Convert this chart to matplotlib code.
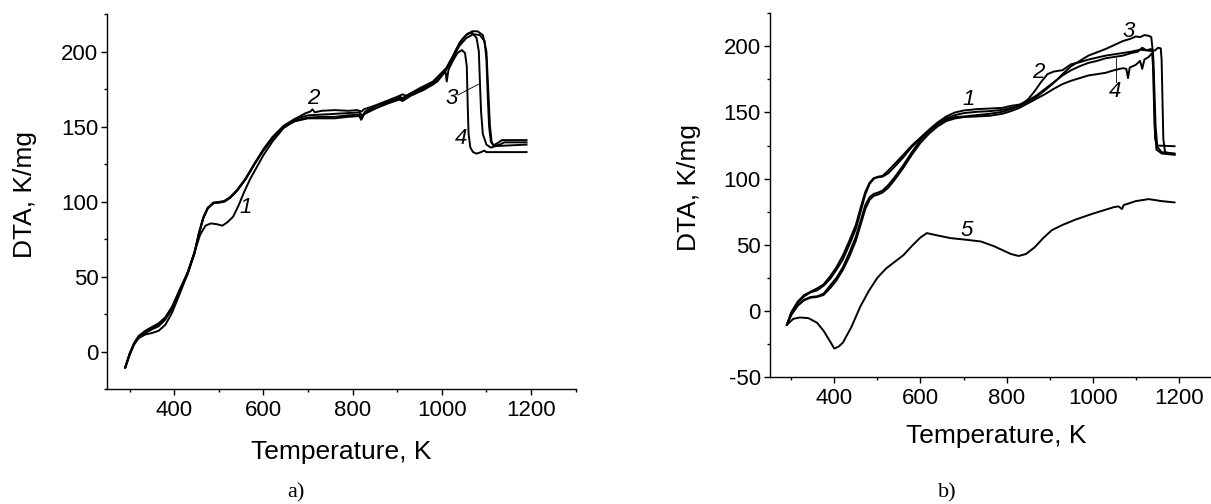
import matplotlib
matplotlib.use("Agg")
import matplotlib.pyplot as plt
from matplotlib.ticker import MultipleLocator

# ---- panel a) ----
a1_T = [290, 300, 310, 320, 335, 350, 365, 380, 395, 410, 430, 445, 458, 470, 482, 495, 508, 520,
        532, 545, 556, 570, 585, 600, 620, 645, 670, 700, 730, 760, 790, 815, 820, 826, 850, 880,
        905, 912, 920, 950, 980, 1000, 1012, 1025, 1040, 1055, 1070, 1085, 1096, 1100, 1103, 1106,
        1110, 1116, 1125, 1135, 1190]
a1_y = [-10.5, -2, 5, 9, 11.5, 12.5, 14, 18, 26, 37, 52, 66, 78, 84, 85.5, 85, 84, 86.5,
        90, 98, 106, 115, 123, 131, 140, 149, 154, 156, 156.5, 156.5, 157.5, 158, 155, 158.5, 162, 166,
        169, 168, 170, 174, 178, 184, 189, 196, 204, 209, 211.5, 211, 207, 195, 170, 150,
        140, 137.5, 139, 141, 141]

a2_T = [290, 300, 310, 320, 335, 350, 365, 380, 395, 410, 430, 445, 455, 465, 475, 488, 500, 512,
        525, 540, 560, 580, 600, 620, 645, 670, 695, 705, 710, 715, 730, 760, 790, 810, 820, 825,
        850, 880, 905, 912, 920, 950, 980, 1000, 1010, 1025, 1040, 1055, 1068, 1080, 1092, 1100,
        1104, 1108, 1112, 1118, 1130, 1140, 1190]
a2_y = [-10.5, -1, 6, 10.5, 14, 16.5, 19, 23, 30, 40, 53, 66, 78, 89, 95.5, 99, 99.5, 100,
        102.5, 107, 115, 125, 134.5, 142.5, 150, 155, 159, 160, 161.5, 159.5, 160.5, 161, 160.5, 161, 160, 161.5,
        164, 167.5, 170.5, 171.5, 170.5, 175.5, 180, 186, 189, 197, 206, 211, 213.5, 213.5, 211, 200,
        175, 150, 139, 137, 138, 139.5, 139.5]

a3_T = [290, 300, 310, 320, 335, 350, 365, 380, 395, 410, 430, 445, 455, 465, 475, 488, 500, 512,
        525, 540, 560, 580, 600, 620, 645, 670, 700, 730, 760, 790, 815, 822, 828, 850, 880, 905,
        912, 930, 960, 990, 1005, 1015, 1030, 1045, 1058, 1068, 1078, 1083, 1086, 1088, 1092, 1100,
        1110, 1120, 1190]
a3_y = [-10.5, -1.5, 5.5, 10, 13, 15.5, 18, 22.5, 29.5, 39.5, 52.5, 65.5, 79, 89.5, 96, 99.5, 99.8, 100.5,
        103, 107.5, 115.5, 125.5, 135, 143, 150.5, 155, 157.5, 158, 158.5, 159, 159.5, 157, 160, 163.5, 167, 170,
        169, 172, 176, 181, 186, 191, 200, 208, 212, 212.5, 209, 200, 175, 160, 145, 138,
        136, 137, 138]

a4_T = [290, 300, 310, 320, 335, 350, 365, 380, 395, 410, 430, 445, 455, 465, 475, 488, 500, 512,
        525, 540, 560, 580, 600, 620, 645, 670, 700, 730, 760, 790, 815, 819, 824, 850, 880, 905,
        912, 930, 960, 990, 1003, 1008, 1011, 1015, 1025, 1035, 1045, 1052, 1056, 1058, 1060, 1064,
        1070, 1078, 1088, 1095, 1100, 1110, 1190]
a4_y = [-10.5, -1.5, 5, 9.5, 12.5, 15, 17, 21.5, 28.5, 39, 52, 65, 78.5, 89, 95.5, 99, 99.3, 100,
        102.5, 107, 115, 125, 134, 142, 149.5, 153.5, 155.5, 155.5, 155.5, 156.5, 157, 154.5, 158, 162, 165.5, 168,
        167, 170.5, 174.5, 180, 185, 187, 180, 188, 194, 199, 201, 199, 190, 165, 145, 136,
        133, 132, 133, 134, 133, 133, 133]

# ---- panel b) ----
b1_T = [290, 300, 315, 330, 345, 360, 375, 390, 405, 420, 435, 450, 462, 472, 482, 492, 502, 512,
        525, 540, 560, 580, 600, 620, 640, 660, 680, 700, 730, 760, 790, 810, 830, 850, 870, 890,
        910, 930, 950, 970, 990, 1010, 1030, 1050, 1070, 1090, 1105, 1115, 1125, 1135, 1140, 1143,
        1146, 1150, 1160, 1190]
b1_y = [-10.5, -2, 6, 11, 14, 15.5, 19, 24, 31, 39, 50, 62, 76, 88, 96, 100, 101.5, 102,
        106, 111, 118, 125, 131, 137, 142.5, 147, 150, 151.5, 152.5, 153, 153.5, 155, 156, 159, 163, 168,
        173, 178, 182, 185, 187.5, 189, 191, 192, 193, 195, 196, 199, 197, 198, 196, 170,
        140, 124, 120, 119]

b2_T = [290, 300, 315, 330, 345, 360, 375, 390, 405, 420, 435, 450, 462, 472, 482, 492, 502, 512,
        525, 540, 560, 580, 600, 620, 640, 660, 680, 700, 730, 760, 790, 810, 830, 850, 865, 880,
        895, 910, 930, 950, 970, 990, 1010, 1030, 1050, 1070, 1090, 1110, 1125, 1135, 1145, 1152,
        1158, 1160, 1162, 1164, 1168, 1180, 1190]
b2_y = [-10.5, -3, 4, 8.5, 10.5, 11, 13, 19, 25, 33, 44, 56, 69, 80, 86, 88.5, 89.5, 91,
        95, 101, 110, 120, 129, 136, 141, 144.5, 146.5, 147, 148, 149, 150.5, 152.5, 155, 160, 166, 173,
        179, 181, 182, 186.5, 188, 190, 191.5, 193, 194, 195, 196, 197.5, 197, 196.5, 197, 199,
        198.5, 190, 160, 130, 120, 119, 118.5]

b3_T = [290, 300, 315, 330, 345, 360, 375, 390, 405, 420, 435, 450, 462, 472, 482, 492, 502, 512,
        525, 540, 560, 580, 600, 620, 640, 660, 680, 700, 730, 760, 790, 810, 830, 850, 870, 890,
        910, 930, 950, 970, 990, 1010, 1030, 1050, 1070, 1090, 1100, 1110, 1120, 1130, 1136, 1140,
        1142, 1145, 1150, 1190]
b3_y = [-10.5, -1, 7, 12, 14.5, 17, 20, 26, 33, 42, 53, 65, 79, 90, 97, 100.5, 101, 101.5,
        104, 109, 116, 124, 130, 136, 141.5, 145.5, 148, 149.5, 150.5, 151, 152, 153.5, 155, 158.5, 162, 167,
        172.5, 179, 185, 189, 193, 195.5, 198, 201, 204, 206, 207.5, 207, 208.5, 208, 207, 195,
        160, 130, 125, 124.5]

b4_T = [290, 300, 315, 330, 345, 360, 375, 390, 405, 420, 435, 450, 462, 472, 482, 492, 502, 512,
        525, 540, 560, 580, 600, 620, 640, 660, 680, 700, 730, 760, 790, 810, 830, 850, 870, 890,
        910, 930, 950, 970, 990, 1010, 1030, 1050, 1070, 1078, 1082, 1086, 1100, 1110, 1115, 1120,
        1130, 1138, 1141, 1144, 1148, 1160, 1190]
b4_y = [-10.5, -3, 4, 8, 10, 10.5, 12, 17, 23, 31, 41, 53, 66, 77, 84, 87, 88, 89.5,
        93, 99, 108, 118, 127, 134, 139.5, 143.5, 145.5, 146.5, 147, 147.5, 149, 151, 153.5, 157, 160.5, 164,
        168, 171.5, 174, 176, 178, 179, 180, 182, 183.5, 183, 176, 184, 186, 189, 183, 190,
        192, 195, 180, 140, 122, 119, 118]

b5_T = [290, 305, 320, 340, 360, 375, 390, 400, 410, 420, 440, 460, 480, 500, 520, 540, 560, 580,
        600, 615, 640, 670, 700, 740, 770, 790, 810, 828, 845, 865, 885, 905, 930, 960, 1000, 1030,
        1050, 1060, 1068, 1072, 1100, 1130, 1160, 1190]
b5_y = [-10.5, -6, -5, -5.5, -9, -15, -23, -28.5, -27, -24, -12, 3, 15, 25, 32, 37, 42, 49,
        55.5, 58.8, 57, 55, 54, 52.5, 49, 46, 43, 41.5, 43, 48, 55, 61, 65, 69, 73.5, 76.5,
        78.5, 79, 77, 80, 83, 84.5, 83, 82]

# curve labels: (text, T, y)
labels_a = [("1", 559, 96), ("2", 712, 168.5), ("3", 1022, 168.5), ("4", 1044, 142)]
labels_b = [("1", 711, 160), ("2", 874, 180.5), ("3", 1084, 211), ("4", 1053, 166), ("5", 708, 61)]

plt.rcParams['font.family'] = ['Liberation Sans', 'DejaVu Sans']
plt.rcParams['axes.unicode_minus'] = False

fig = plt.figure(figsize=(12.11, 5.04), dpi=100)
ax1 = fig.add_axes([107.4 / 1211, 1 - 389.3 / 504, 468.2 / 1211, 375.3 / 504])
ax2 = fig.add_axes([769.7 / 1211, 1 - 377 / 504, 452.2 / 1211, 363.7 / 504])

lw = 1.4
for T, y in [(a1_T, a1_y), (a2_T, a2_y), (a3_T, a3_y), (a4_T, a4_y)]:
    ax1.plot(T, y, c='k', lw=lw)
for T, y in [(b1_T, b1_y), (b2_T, b2_y), (b3_T, b3_y), (b4_T, b4_y), (b5_T, b5_y)]:
    ax2.plot(T, y, c='k', lw=lw)

for txt, x, y in labels_a:
    ax1.text(x, y, txt, fontsize=16, style='italic', ha='center', va='center')
for txt, x, y in labels_b:
    ax2.text(x, y, txt, fontsize=16, style='italic', ha='center', va='center')

# leader lines
ax1.plot([1036, 1084], [171, 178.5], c='k', lw=0.6)
ax2.plot([1054, 1054], [173, 191], c='k', lw=0.6)

ax1.set_xlim(250, 1300)
ax1.set_ylim(-25, 225)
ax2.set_xlim(250, 1300)
ax2.set_ylim(-50, 225)

for ax in (ax1, ax2):
    ax.spines['top'].set_visible(False)
    ax.spines['right'].set_visible(False)
    ax.spines['left'].set_linewidth(1.0)
    ax.spines['bottom'].set_linewidth(1.0)
    ax.xaxis.set_major_locator(MultipleLocator(200))
    ax.xaxis.set_minor_locator(MultipleLocator(100))
    ax.yaxis.set_major_locator(MultipleLocator(50))
    ax.yaxis.set_minor_locator(MultipleLocator(25))
    ax.tick_params(which='major', length=4.5, width=1.0, labelsize=16)
    ax.tick_params(which='minor', length=2.5, width=1.0)
    ax.tick_params(axis='y', pad=2)
    ax.set_xlabel('Temperature, K', fontsize=19)
    ax.set_ylabel('DTA, K/mg', fontsize=19)

ax1.xaxis.set_label_coords(0.5, -0.135)
ax2.xaxis.set_label_coords(0.5, -0.13)
ax1.yaxis.set_label_coords(-0.15, 0.52)
ax2.yaxis.set_label_coords(-0.152, 0.52)

fig.text(296 / 1211, 1 - 493 / 504, 'a)', fontsize=16, family='Liberation Serif', ha='center', va='center')
fig.text(947 / 1211, 1 - 493 / 504, 'b)', fontsize=16, family='Liberation Serif', ha='center', va='center')

fig.savefig('out.png', dpi=100)
